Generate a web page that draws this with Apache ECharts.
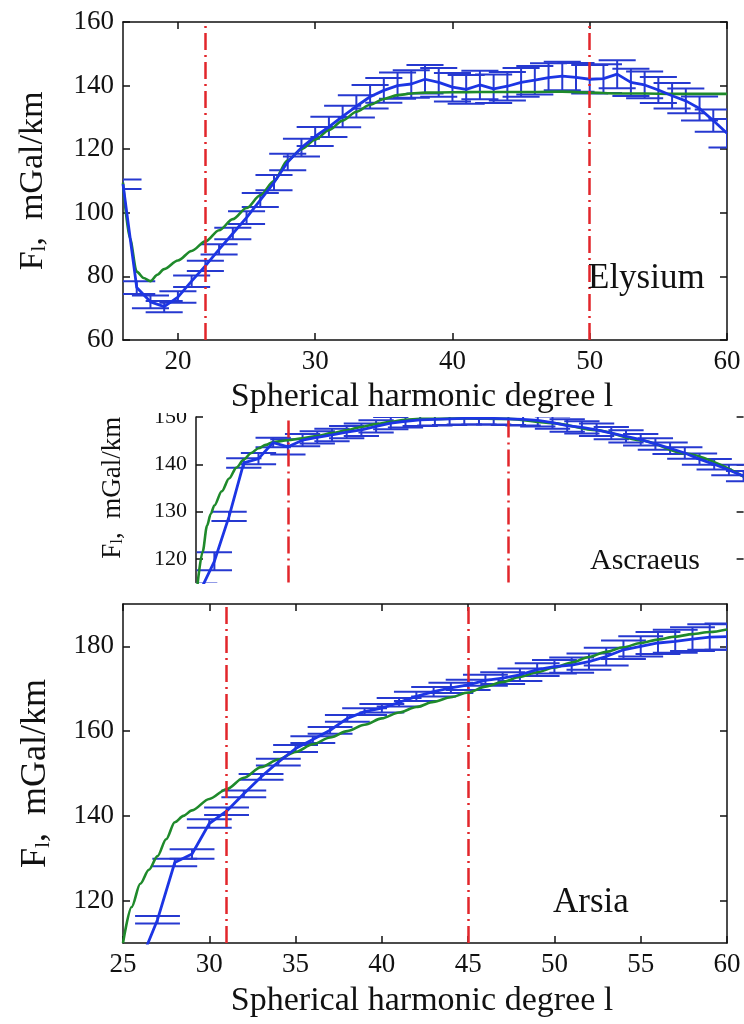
<!DOCTYPE html>
<html><head><meta charset="utf-8">
<script src="https://cdn.jsdelivr.net/npm/echarts@6/dist/echarts.min.js"></script>
<style>html,body{margin:0;padding:0;background:#fff}#c{width:744px;height:1024px}</style>
</head><body><div id="c"></div>
<script>
// ---------------- Elysium (top panel) ----------------
const elysDeg = [16,17,18,19,20,21,22,23,24,25,26,27,28,29,30,31,32,33,34,35,36,37,38,39,40,41,42,43,44,45,46,47,48,49,50,51,52,53,54,55,56,57,58,59,60];
const elysObs = [109,76.5,72,70.5,73.5,78.5,83.3,88.5,93.5,98.5,104,109.5,116,120.5,124,127,130.3,133.5,136.5,138.5,140,140.5,142,141,139.5,138.8,140.2,139,139.8,141,141.7,142.5,143,142.6,142,142.2,143.6,141,140.2,138.6,136.8,135.2,132.8,129,125];
const elysErr = [1.5,2,2,1.8,1.8,1.8,1.6,1.6,1.8,2,2.2,2.4,2.6,2.8,3,3.2,3.4,3.5,3.7,3.9,4.1,4.3,4.5,4.5,4.5,4.5,4.5,4.5,4.5,4.5,4.5,4.5,4.5,4.5,4.5,4.5,4.4,4.3,4.2,4.1,4,3.9,3.8,3.5,4.5];
const elysModelDeg = [16,16.5,17,17.5,18,18.5,19,20,21,22,23,24,25,26,27,28,29,30,31,32,33,34,35,36,37,38,40,42,44,46,48,50,52,54,56,58,60];
const elysModel    = [109.5,92,81.5,79.5,78.5,80.5,82.3,85,88,91,94.5,98,101.5,105.5,110,116.5,120,123,126,129,131.8,134,135.8,137,137.5,137.8,137.9,138,138,138,138.1,137.8,137.5,137.5,137.4,137.4,137.4];
const elysRed = [22,50];
const elysXTicks = [20,30,40,50,60];
const elysYTicks = [60,80,100,120,140,160];

// ---------------- Ascraeus (middle, cropped panel) ----------------
const ascrDeg = [14,15,16,17,18,19,20,21,22,23,24,25,26,27,28,29,30,31,32,33,34,35,36,37,38,39,40,41,42,43,44,45,46,47,48,49,50,51];
const ascrObs = [113,119.5,129,140.3,141.2,144.6,143.7,145.1,145.7,146.2,146.8,147.3,148,148.7,149.1,149.4,149.5,149.6,149.7,149.7,149.7,149.6,149.5,149.3,148.8,148.2,147.8,147.3,146.6,145.9,145.2,144.3,143.4,142.4,141.1,140,138.8,137.5];
const ascrErr = [1.9,1.9,1,1,1.2,1,1.6,1.3,1.3,1.3,1.3,1.3,1.3,1.3,1.3,1.3,1.3,1.3,1.3,1.3,1.3,1.3,1.3,1.3,1.3,1.3,1.3,1.3,1.3,1.3,1.2,1.2,1.2,1.2,1.2,1.1,1.1,1.1];
const ascrModelDeg = [13.85,14.2,14.5,14.75,15,15.5,16,16.5,17,17.5,18,18.5,19,20,21,22,23,24,25,26,27,28,29,30,32,35,38,41,44,47,51];
const ascrModel    = [114.5,121.5,127,129.5,131.3,134.3,137,139.3,141,142.4,143.4,144.1,144.7,145.1,145.5,146,146.6,147.2,147.9,148.5,149,149.4,149.6,149.6,149.7,149.6,148.7,147.2,145.1,142.3,137.4];
const ascrRed = [20,35];
const ascrYTicks = [120,130,140,150];

// ---------------- Arsia (bottom panel) ----------------
const arsiDeg = [26,27,28,29,30,31,32,33,34,35,36,37,38,39,40,41,42,43,44,45,46,47,48,49,50,51,52,53,54,55,56,57,58,59,60];
const arsiObs = [105.5,115.5,129,131,138.2,141.1,145.2,149.2,152.7,155.9,158,160.2,163,164.6,165.4,166.8,168.2,169.3,170.2,170.9,172,172.5,173.3,174.5,175.2,175.6,176.4,177.6,179.2,180,180.8,181.2,181.7,182.2,182.3];
const arsiErr = [1,0.9,0.9,1.1,1,0.9,0.8,0.7,0.8,0.8,0.8,0.8,0.8,0.8,1,1,1.1,1.1,1.2,1.2,1.3,1.4,1.5,1.5,1.6,1.8,1.9,2.1,2.2,2.4,2.6,2.7,2.8,3,3.1];
const arsiModelDeg = [25,25.5,26,26.5,27,27.5,28,28.5,29,30,31,32,33,34,35,36,37,38,39,40,41,42,43,44,45,46,47,48,49,50,51,52,53,54,55,56,57,58,59,60];
const arsiModel    = [110,118.5,124,127.3,130.5,134.5,138.5,140,141.3,144,146.3,149,151.5,153.3,155.1,156.9,158.5,160,161.5,163,164.4,165.7,166.9,168,169.1,170.5,171.6,172.8,173.9,175,176.2,177.5,178.7,179.8,180.8,181.6,182.3,182.9,183.4,184];
const arsiRed = [31,45];
const arsiXTicks = [25,30,35,40,45,50,55,60];
const arsiYTicks = [120,140,160,180];

// ---------------- styling ----------------
const FONT = "'Liberation Serif','Times New Roman',serif";
const BLUE = '#1c35e4', CAP = '#2639d0', GREEN = '#1f8a2b', RED = '#e2262b', INK = '#111';

function xAxes(gi, min, max, ticks, showLabel, fontSize, showTop) {
  const base = {
    type: 'value', gridIndex: gi, min: min, max: max, position: 'bottom',
    splitLine: {show: false},
    axisLine: {show: showLabel, lineStyle: {color: INK, width: 1.5}},
    axisTick: {show: showLabel, inside: true, length: 7, lineStyle: {color: INK, width: 1.5}, customValues: ticks},
    axisLabel: {show: showLabel, customValues: ticks, color: INK, fontFamily: FONT, fontSize: fontSize, margin: 8}
  };
  const top = {
    type: 'value', gridIndex: gi, min: min, max: max, position: 'top',
    splitLine: {show: false},
    axisLine: {show: showTop, lineStyle: {color: INK, width: 1.5}},
    axisTick: {show: showTop, inside: true, length: 7, lineStyle: {color: INK, width: 1.5}, customValues: ticks},
    axisLabel: {show: false}
  };
  return [base, top];
}
function nameRich(fs) {
  return {
    f: {fontFamily: FONT, fontSize: fs, color: INK},
    s: {fontFamily: FONT, fontSize: Math.round(fs * 0.62), color: INK, verticalAlign: 'bottom', lineHeight: Math.round(fs * 0.5)}
  };
}
function yAxes(gi, min, max, ticks, fontSize, nameFs, nameGap, namePad, showRightLine) {
  const left = {
    type: 'value', gridIndex: gi, min: min, max: max, position: 'left',
    splitLine: {show: false},
    axisLine: {show: true, lineStyle: {color: INK, width: 1.5}},
    axisTick: {show: true, inside: true, length: 7, lineStyle: {color: INK, width: 1.5}, customValues: ticks},
    axisLabel: {show: true, customValues: ticks, color: INK, fontFamily: FONT, fontSize: fontSize, margin: 9},
    name: '{f|F}{s|l}{f|,  mGal/km}', nameLocation: 'middle', nameGap: nameGap, nameRotate: 90,
    nameTextStyle: {rich: nameRich(nameFs), padding: namePad}
  };
  const right = {
    type: 'value', gridIndex: gi, min: min, max: max, position: 'right',
    splitLine: {show: false},
    axisLine: {show: showRightLine, lineStyle: {color: INK, width: 1.5}},
    axisTick: {show: true, inside: true, length: 7, lineStyle: {color: INK, width: 1.5}, customValues: ticks},
    axisLabel: {show: false}
  };
  return [left, right];
}
function errBars(gi, deg, val, err, capW) {
  return {
    type: 'custom', xAxisIndex: gi * 2, yAxisIndex: gi * 2, clip: true, z: 2, silent: true,
    data: deg.map((d, i) => [d, val[i], err[i]]),
    renderItem: function (params, api) {
      const x = api.value(0), y = api.value(1), e = api.value(2);
      const hi = api.coord([x, y + e]), lo = api.coord([x, y - e]);
      const l = api.coord([x - capW, y])[0], r = api.coord([x + capW, y])[0];
      const st = {stroke: CAP, lineWidth: 2};
      return {type: 'group', children: [
        {type: 'line', shape: {x1: hi[0], y1: hi[1], x2: lo[0], y2: lo[1]}, style: st},
        {type: 'line', shape: {x1: l, y1: hi[1], x2: r, y2: hi[1]}, style: st},
        {type: 'line', shape: {x1: l, y1: lo[1], x2: r, y2: lo[1]}, style: st}
      ]};
    }
  };
}
function obsLine(gi, deg, val) {
  return {type: 'line', xAxisIndex: gi * 2, yAxisIndex: gi * 2, z: 4, showSymbol: false, silent: true,
    data: deg.map((d, i) => [d, val[i]]), lineStyle: {color: BLUE, width: 2.8}};
}
function modelLine(gi, deg, val, red) {
  return {type: 'line', xAxisIndex: gi * 2, yAxisIndex: gi * 2, z: 3, showSymbol: false, silent: true,
    smooth: 0.3, smoothMonotone: 'x',
    data: deg.map((d, i) => [d, val[i]]), lineStyle: {color: GREEN, width: 2.6},
    markLine: {silent: true, symbol: ['none', 'none'], label: {show: false}, animation: false,
      lineStyle: {color: RED, width: 2.5, type: [17, 5, 2, 5]},
      data: red.map(v => ({xAxis: v}))}};
}

const chart = echarts.init(document.getElementById('c'), null, {renderer: 'canvas'});
const option = {
  animation: false,
  backgroundColor: '#fff',
  grid: [
    {left: 123, top: 22, width: 604, height: 318},
    {left: 196, top: 417, width: 547.6, height: 165.6},
    {left: 123, top: 604, width: 604, height: 339}
  ],
  xAxis: [].concat(
    xAxes(0, 16, 60, elysXTicks, true, 27, true),
    xAxes(1, 13.75, 51, [], false, 22, false),
    xAxes(2, 25, 60, arsiXTicks, true, 27, true)
  ),
  yAxis: [].concat(
    yAxes(0, 60, 160, elysYTicks, 27, 34, 73, [0, 0, 0, 0], true),
    yAxes(1, 115, 150, ascrYTicks, 22, 27, 70, [0, 0, 0, 24], false),
    yAxes(2, 110, 190, arsiYTicks, 27, 36, 69, [0, 0, 0, 0], true)
  ),
  series: [
    errBars(0, elysDeg, elysObs, elysErr, 1.35),
    modelLine(0, elysModelDeg, elysModel, elysRed),
    obsLine(0, elysDeg, elysObs),
    errBars(1, ascrDeg, ascrObs, ascrErr, 1.2),
    modelLine(1, ascrModelDeg, ascrModel, ascrRed),
    obsLine(1, ascrDeg, ascrObs),
    errBars(2, arsiDeg, arsiObs, arsiErr, 1.3),
    modelLine(2, arsiModelDeg, arsiModel, arsiRed),
    obsLine(2, arsiDeg, arsiObs)
  ],
  graphic: [
    {type: 'rect', z: 100, shape: {x: 140, y: 396, width: 54, height: 17}, style: {fill: '#fff'}},
    {type: 'text', z: 100, style: {x: 422, y: 397, text: 'Spherical harmonic degree l', fill: INK, font: '34px ' + FONT, align: 'center', verticalAlign: 'middle'}},
    {type: 'text', z: 100, style: {x: 422, y: 1001, text: 'Spherical harmonic degree l', fill: INK, font: '34px ' + FONT, align: 'center', verticalAlign: 'middle'}},
    {type: 'text', z: 100, style: {x: 588, y: 279, text: 'Elysium', fill: INK, font: '35px ' + FONT, align: 'left', verticalAlign: 'middle'}},
    {type: 'text', z: 100, style: {x: 590, y: 561, text: 'Ascraeus', fill: INK, font: '30px ' + FONT, align: 'left', verticalAlign: 'middle'}},
    {type: 'text', z: 100, style: {x: 553, y: 903, text: 'Arsia', fill: INK, font: '35px ' + FONT, align: 'left', verticalAlign: 'middle'}}
  ]
};
chart.setOption(option);
</script></body></html>
